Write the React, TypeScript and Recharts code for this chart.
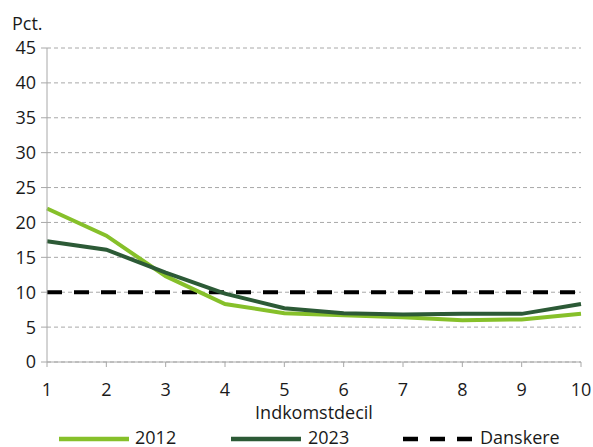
import React from 'react';
import { LineChart, Line, XAxis, YAxis, CartesianGrid } from 'recharts';

const deciles = [1, 2, 3, 4, 5, 6, 7, 8, 9, 10];
const values2012 = [22.0, 18.1, 12.3, 8.3, 7.0, 6.7, 6.4, 6.0, 6.1, 6.9];
const values2023 = [17.3, 16.1, 12.8, 9.8, 7.7, 7.0, 6.8, 6.9, 6.9, 8.3];
const danskere = [10, 10, 10, 10, 10, 10, 10, 10, 10, 10];
const yTicks = [0, 5, 10, 15, 20, 25, 30, 35, 40, 45];

const data = deciles.map((d, i) => ({
  decil: d,
  y2012: values2012[i],
  y2023: values2023[i],
  danskere: danskere[i],
}));

const FONT = '"Open Sans", sans-serif';
const FS = 18;
const TXT = '#1a1a1a';
const C2012 = '#86c02a';
const C2023 = '#2c5a36';
const AXIS = '#a8a8a8';

export default function App() {
  return (
    <div style={{ position: 'absolute', left: 0, top: 0, width: 593, height: 447, background: '#fff', fontFamily: FONT, overflow: 'hidden' }}>
      <LineChart width={593} height={447} data={data} margin={{ top: 48, right: 12, left: 0, bottom: 55 }}>
        <CartesianGrid vertical={false} stroke={AXIS} strokeDasharray="4 3" />
        <XAxis
          dataKey="decil"
          height={30}
          stroke={AXIS}
          tickSize={5}
          tickMargin={16}
          tick={{ fill: TXT, fontSize: FS, fontFamily: FONT }}
          interval={0}
        />
        <YAxis
          width={47}
          domain={[0, 45]}
          ticks={yTicks}
          stroke={AXIS}
          tickSize={6}
          tickMargin={5}
          interval={0}
          tick={{ fill: TXT, fontSize: FS, fontFamily: FONT }}
        />
        <Line dataKey="danskere" stroke="#000" strokeWidth={4} strokeDasharray="15 12" dot={false} isAnimationActive={false} />
        <Line dataKey="y2012" stroke={C2012} strokeWidth={4} dot={false} isAnimationActive={false} />
        <Line dataKey="y2023" stroke={C2023} strokeWidth={4} dot={false} isAnimationActive={false} />
      </LineChart>
      <svg width={593} height={447} style={{ position: 'absolute', left: 0, top: 0, pointerEvents: 'none' }}>
        <text x={12} y={30} fontSize={FS} fontFamily={FONT} fill={TXT}>Pct.</text>
        <text x={314} y={418.5} textAnchor="middle" fontSize={FS} fontFamily={FONT} fill={TXT}>Indkomstdecil</text>
        <line x1={59} x2={129} y1={439} y2={439} stroke={C2012} strokeWidth={4.5} />
        <text x={135} y={444} fontSize={FS} fontFamily={FONT} fill={TXT}>2012</text>
        <line x1={231} x2={301} y1={439} y2={439} stroke={C2023} strokeWidth={4.5} />
        <text x={308} y={444} fontSize={FS} fontFamily={FONT} fill={TXT}>2023</text>
        <line x1={403} x2={474} y1={439} y2={439} stroke="#000" strokeWidth={4.5} strokeDasharray="15 12" />
        <text x={480} y={444} fontSize={FS} fontFamily={FONT} fill={TXT}>Danskere</text>
      </svg>
    </div>
  );
}
